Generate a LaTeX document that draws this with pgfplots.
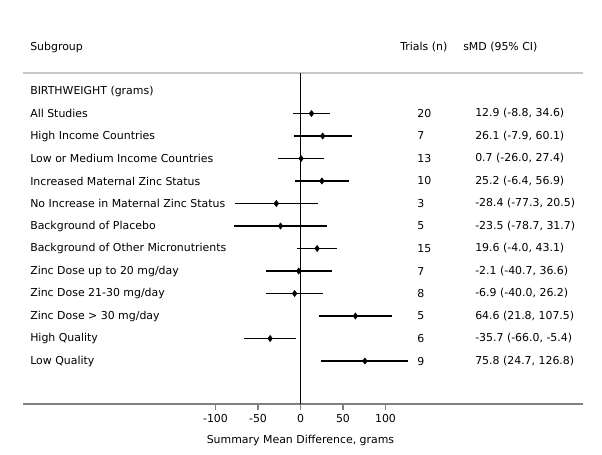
\documentclass[border=0pt]{standalone}
\usepackage{pgfplots}
\pgfplotsset{compat=1.18}
\usepackage{pgfplotstable}
\usepackage{fontspec}
\setmainfont{DejaVu Sans}
\pgfplotstableread{
y mean lo hi
-113.5 12.9 -8.8 34.6
-136 26.1 -7.9 60.1
-158.5 0.7 -26.0 27.4
-181 25.2 -6.4 56.9
-203.5 -28.4 -77.3 20.5
-226 -23.5 -78.7 31.7
-248.5 19.6 -4.0 43.1
-271 -2.1 -40.7 36.6
-293.5 -6.9 -40.0 26.2
-316 64.6 21.8 107.5
-338.5 -35.7 -66.0 -5.4
-361 75.8 24.7 126.8
}\data
\newcommand{\fs}{\fontsize{8.2pt}{10pt}\selectfont}
\begin{document}
\begin{tikzpicture}
\begin{axis}[
  scale only axis, width=420pt, height=248.25pt,
  xmin=-326.47, xmax=332.35, ymin=-404, ymax=-73,
  clip=false,
  axis y line=none, axis x line*=bottom,
  axis line style={color=black!50, line width=1.1pt, -},
  xtick={-100,-50,0,50,100},
  xticklabels={-100,-50,0,50,100},
  tick align=outside, major tick length=4.5pt,
  tick style={color=black!50, line width=0.8pt},
  xticklabel style={font=\fs, text=black},
]
\path (axis cs:-353.5,0) rectangle (axis cs:354.7,-454);
\draw[black!22, line width=0.8pt] (axis cs:-326.47,-73) -- (axis cs:332.35,-73);
\addplot[black, line width=0.9pt] coordinates {(0,-73) (0,-404)};
\addplot[only marks, black, mark=diamond*, mark size=2.3pt,
  error bars/.cd, x dir=both, x explicit, error mark=none,
  error bar style={line width=0.9pt, black}]
  table[x=mean, y=y,
    x error plus expr=\thisrow{hi}-\thisrow{mean},
    x error minus expr=\thisrow{mean}-\thisrow{lo}] {\data};
\begin{scope}[every node/.style={font=\fs, inner sep=0pt, anchor=west}]
\node at (axis cs:-318.2,-47) {Subgroup};
\node at (axis cs:117.1,-47) {Trials (n)};
\node at (axis cs:191.2,-47) {sMD (95\% CI)};
\node at (axis cs:-318.2,-91) {BIRTHWEIGHT (grams)};
\node at (axis cs:-318.2,-113.5) {All Studies};
\node at (axis cs:-318.2,-136) {High Income Countries};
\node at (axis cs:-318.2,-158.5) {Low or Medium Income Countries};
\node at (axis cs:-318.2,-181) {Increased Maternal Zinc Status};
\node at (axis cs:-318.2,-203.5) {No Increase in Maternal Zinc Status};
\node at (axis cs:-318.2,-226) {Background of Placebo};
\node at (axis cs:-318.2,-248.5) {Background of Other Micronutrients};
\node at (axis cs:-318.2,-271) {Zinc Dose up to 20 mg/day};
\node at (axis cs:-318.2,-293.5) {Zinc Dose 21-30 mg/day};
\node at (axis cs:-318.2,-316) {Zinc Dose > 30 mg/day};
\node at (axis cs:-318.2,-338.5) {High Quality};
\node at (axis cs:-318.2,-361) {Low Quality};
\node at (axis cs:137.1,-113.5) {20};
\node at (axis cs:137.1,-136) {7};
\node at (axis cs:137.1,-158.5) {13};
\node at (axis cs:137.1,-181) {10};
\node at (axis cs:137.1,-203.5) {3};
\node at (axis cs:137.1,-226) {5};
\node at (axis cs:137.1,-248.5) {15};
\node at (axis cs:137.1,-271) {7};
\node at (axis cs:137.1,-293.5) {8};
\node at (axis cs:137.1,-316) {5};
\node at (axis cs:137.1,-338.5) {6};
\node at (axis cs:137.1,-361) {9};
\node at (axis cs:205.3,-113.5) {12.9 (-8.8, 34.6)};
\node at (axis cs:205.3,-136) {26.1 (-7.9, 60.1)};
\node at (axis cs:205.3,-158.5) {0.7 (-26.0, 27.4)};
\node at (axis cs:205.3,-181) {25.2 (-6.4, 56.9)};
\node at (axis cs:205.3,-203.5) {-28.4 (-77.3, 20.5)};
\node at (axis cs:205.3,-226) {-23.5 (-78.7, 31.7)};
\node at (axis cs:205.3,-248.5) {19.6 (-4.0, 43.1)};
\node at (axis cs:205.3,-271) {-2.1 (-40.7, 36.6)};
\node at (axis cs:205.3,-293.5) {-6.9 (-40.0, 26.2)};
\node at (axis cs:205.3,-316) {64.6 (21.8, 107.5)};
\node at (axis cs:205.3,-338.5) {-35.7 (-66.0, -5.4)};
\node at (axis cs:205.3,-361) {75.8 (24.7, 126.8)};
\node[anchor=center] at (axis cs:0,-440) {Summary Mean Difference, grams};
\end{scope}
\end{axis}
\end{tikzpicture}
\end{document}
